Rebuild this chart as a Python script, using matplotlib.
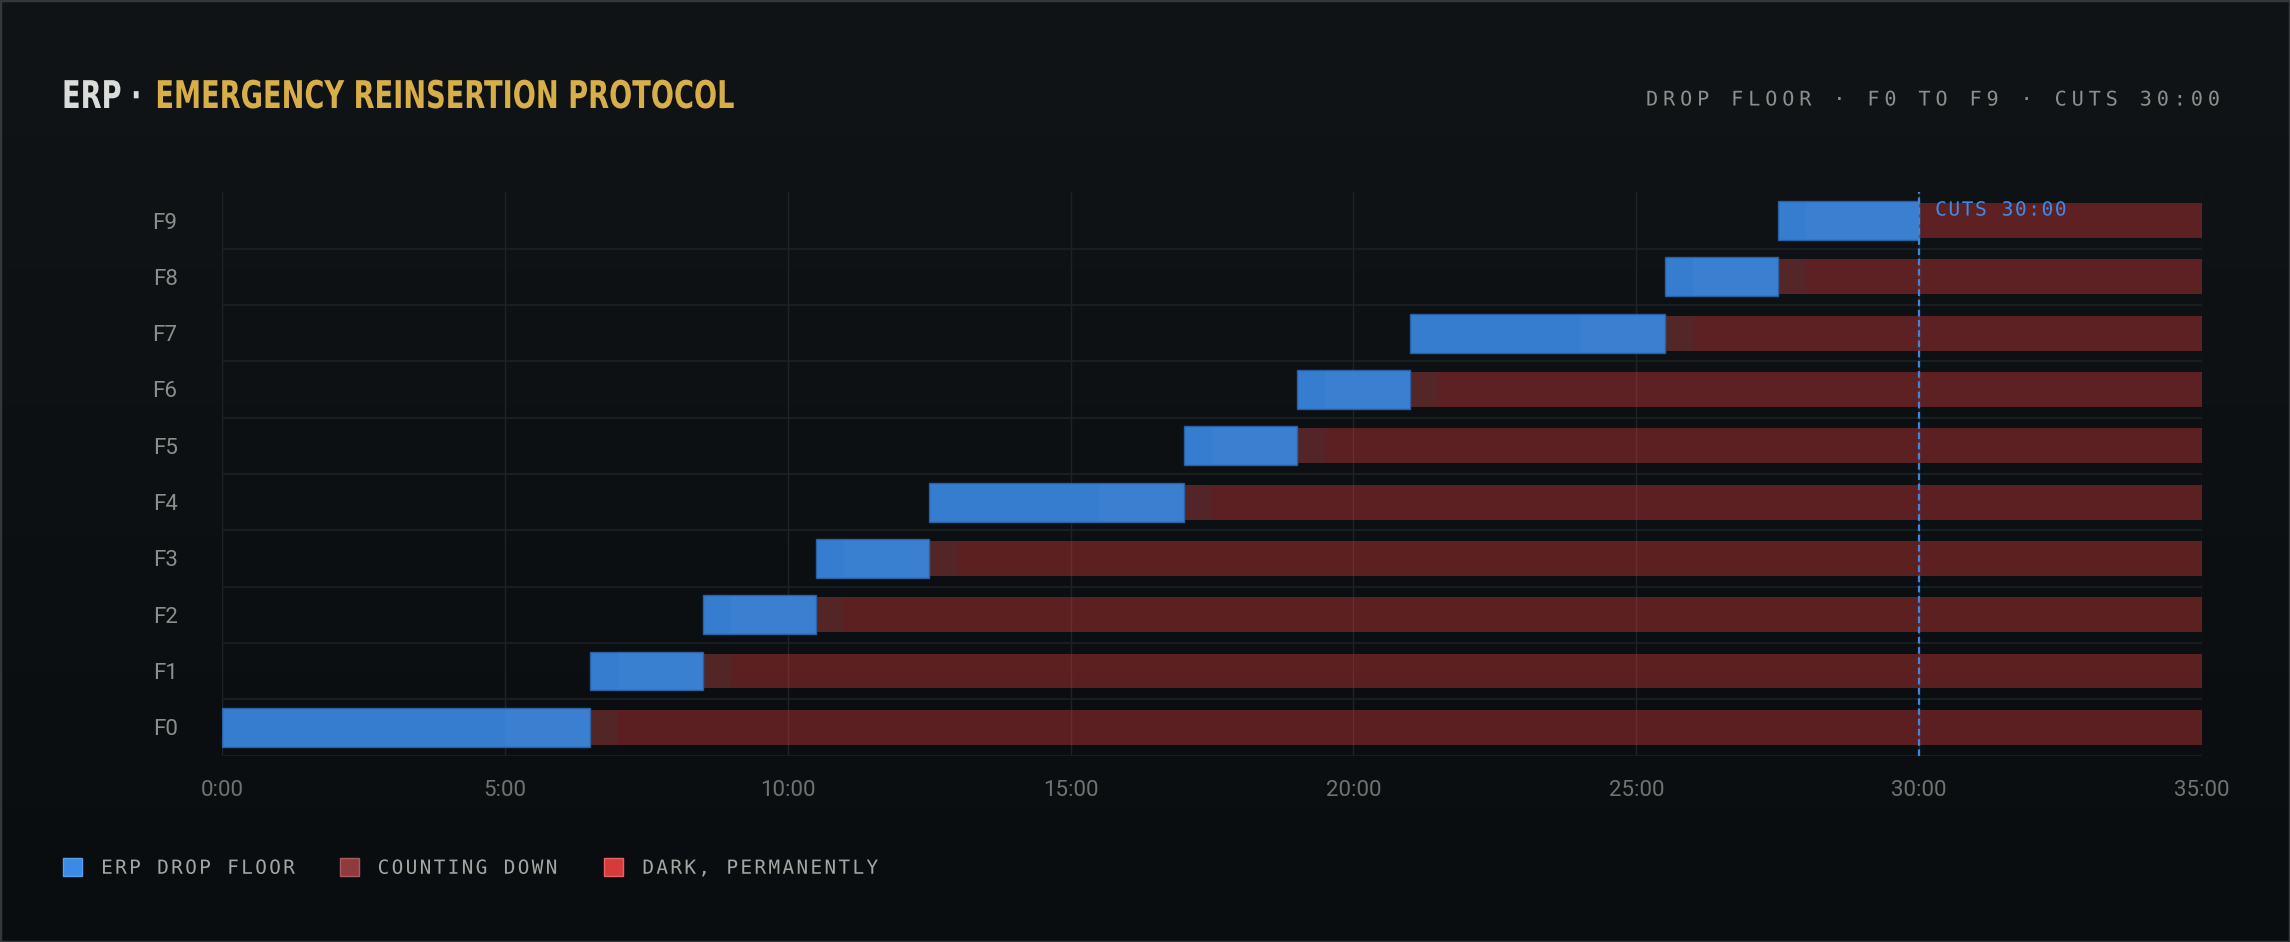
import numpy as np
import matplotlib
matplotlib.use("Agg")
import matplotlib.pyplot as plt
from matplotlib.patches import Patch, Rectangle
from matplotlib.colors import LinearSegmentedColormap
from matplotlib.patheffects import AbstractPathEffect
from matplotlib.path import Path
from matplotlib.transforms import Affine2D

# ---------------- data ----------------
floors = ["F0", "F1", "F2", "F3", "F4", "F5", "F6", "F7", "F8", "F9"]
drop_start = [0.0, 6.5, 8.5, 10.5, 12.5, 17.0, 19.0, 21.0, 25.5, 27.5]
drop_end = [6.5, 8.5, 10.5, 12.5, 17.0, 19.0, 21.0, 25.5, 27.5, 30.0]
countdown_end = [7.0, 9.0, 11.0, 13.0, 17.5, 19.5, 21.5, 26.0, 28.0, 30.0]
shade_start = [5.0, 7.0, 9.0, 11.0, 15.5, 17.5, 19.5, 24.0, 26.0, 28.0]
dark_end = [35.0] * 10
cut_time = 30.0
x_ticks = [0, 5, 10, 15, 20, 25, 30, 35]
x_tick_labels = ["0:00", "5:00", "10:00", "15:00", "20:00", "25:00", "30:00", "35:00"]
legend_labels = ["ERP DROP FLOOR", "COUNTING DOWN", "DARK, PERMANENTLY"]


# ---------------- text effects ----------------
class Tracking(AbstractPathEffect):
    """Letter spacing for a monospace text (DejaVu Sans Mono)."""
    def __init__(self, extra_px, n_chars, align=0.0, adv_units=1233 / 2048 * 100):
        super().__init__()
        self.extra = extra_px
        self.n = n_chars
        self.align = align
        self.adv = adv_units

    def draw_path(self, renderer, gc, tpath, affine, rgbFace=None):
        codes = tpath.codes
        if codes is None:
            renderer.draw_path(gc, tpath, affine, rgbFace)
            return
        src = tpath.vertices
        out = affine.transform(src).copy()
        starts = np.where(codes == Path.MOVETO)[0]
        ends = list(starts[1:]) + [len(codes)]
        shift0 = -self.align * (self.n - 1) * self.extra
        for s, e in zip(starts, ends):
            cx = 0.5 * (src[s:e, 0].min() + src[s:e, 0].max())
            idx = int(cx // self.adv)
            out[s:e, 0] += idx * self.extra + shift0
        renderer.draw_path(gc, Path(out, codes), Affine2D(), rgbFace)


class Stretch(AbstractPathEffect):
    """Scale glyphs about the text's baseline origin (condensed look)."""
    def __init__(self, sx=1.0, sy=1.0):
        super().__init__()
        self.sx = sx
        self.sy = sy

    def draw_path(self, renderer, gc, tpath, affine, rgbFace=None):
        ox, oy = affine.transform((0, 0))
        a = affine + Affine2D().translate(-ox, -oy).scale(self.sx, self.sy).translate(ox, oy)
        renderer.draw_path(gc, tpath, a, rgbFace)


# ---------------- figure ----------------
W, H = 2290, 942
plt.rcParams["font.family"] = ["Roboto", "DejaVu Sans"]
fig = plt.figure(figsize=(W / 100, H / 100), dpi=100)
fig.patch.set_facecolor("#0d1114")

bg = fig.add_axes([0, 0, 1, 1], zorder=-10)
grad = np.linspace(0, 1, 256).reshape(-1, 1)
cmap = LinearSegmentedColormap.from_list("bg", ["#101417", "#0a0d10"])
bg.imshow(grad, aspect="auto", cmap=cmap, extent=[0, 1, 0, 1], origin="upper")
bg.set_axis_off()

ax = fig.add_axes([222 / W, 1 - 755.5 / H, (2202 - 222) / W, (755.5 - 192.4) / H])
ax.set_facecolor("none")

y = np.arange(len(floors))
ds = np.array(drop_start)
de = np.array(drop_end)
ce = np.array(countdown_end)
ss = np.array(shade_start)
dk = np.array(dark_end)

ax.barh(y, dk - ce, left=ce, height=0.62, color="#d63a3a", alpha=0.4, lw=0, zorder=2)
ax.barh(y, ce - de, left=de, height=0.62, color="#8e383a", alpha=0.55, lw=0, zorder=2)
ax.barh(y, de - ds, left=ds, height=0.69, color="#3a86e0", alpha=0.92,
        edgecolor="#2b63a8", lw=1.0, zorder=3)
ax.barh(y, de - ss, left=ss, height=0.66, color="white", alpha=0.025, lw=0, zorder=4)

ax.axvline(cut_time, color="#3a86e0", lw=1.6, ls=(0, (3, 1.6)), zorder=5)
cut_lbl = ax.annotate("CUTS 30:00", xy=(cut_time, 9.5), xytext=(11.5, -12.7),
                      textcoords="offset points", va="center", ha="left",
                      color="#3f8ce8", fontsize=14, family="DejaVu Sans Mono", zorder=6)
cut_lbl.set_path_effects([Tracking(1.6, 10)])

ax.set_xlim(0, 35)
ax.set_ylim(-0.5, 9.5)
ax.set_xticks(x_ticks)
ax.set_xticklabels(x_tick_labels)
ax.set_yticks(y)
ax.set_yticklabels(floors)
ax.set_yticks(np.arange(-0.5, 9.0, 1.0), minor=True)
ax.set_axisbelow(True)
ax.grid(which="major", axis="x", color="#1e2327", lw=1.0)
ax.grid(which="minor", axis="y", color="#1c2125", lw=1.2)
ax.grid(which="major", axis="y", visible=False)
ax.tick_params(which="both", length=0)
ax.tick_params(axis="y", pad=32, labelsize=16, labelcolor="#8a8f8b")
ax.tick_params(axis="x", pad=17.5, labelsize=16, labelcolor="#6f7471")
for s in ax.spines.values():
    s.set_visible(False)

# ---------------- title ----------------
SX = 0.713
TITLE_PT = 27.5 * SX          # layout size (true width), glyphs stretched vertically
title_font = ["DejaVu Sans"]
t1 = fig.text(62 / W, 1 - 108 / H, "ERP ·", color="#d9dcd8", fontsize=TITLE_PT,
              fontweight="bold", family=title_font, va="baseline", ha="left")
t1.set_path_effects([Stretch(1.0, 1.0 / SX)])
fig.canvas.draw()
bb = t1.get_window_extent()
t2 = fig.text((bb.x1 + 14) / W, 1 - 108 / H, "EMERGENCY REINSERTION PROTOCOL",
              color="#d8ae48", fontsize=TITLE_PT, fontweight="bold", family=title_font,
              va="baseline", ha="left")
t2.set_path_effects([Stretch(1.0, 1.0 / SX)])

sub = "DROP FLOOR · F0 TO F9 · CUTS 30:00"
st = fig.text(2220 / W, 1 - 100 / H, sub, ha="right", va="center",
              family="DejaVu Sans Mono", fontsize=14.5, color="#8b908c")
st.set_path_effects([Tracking(4.9, len(sub), align=1.0)])

# ---------------- legend ----------------
handles = [
    Patch(facecolor="#3a8ae6", edgecolor="#5a9ded", lw=1),
    Patch(facecolor="#8e3a3e", edgecolor="#a85a5d", lw=1),
    Patch(facecolor="#d63a3a", edgecolor="#e46464", lw=1),
]
leg = fig.legend(handles, legend_labels, loc="center left",
                 bbox_to_anchor=(63 / W, 1 - 868 / H), ncol=3, frameon=False,
                 borderpad=0, borderaxespad=0, handlelength=0.98, handleheight=1.03,
                 handletextpad=0.98, columnspacing=3.8,
                 prop={"family": "DejaVu Sans Mono", "size": 14}, labelcolor="#a3a7a2")
for txt in leg.get_texts():
    txt.set_path_effects([Tracking(2.3, len(txt.get_text()))])

fig.add_artist(Rectangle((0, 0), 1, 1, transform=fig.transFigure, fill=False,
                         edgecolor="#34383b", lw=2.5, zorder=100))

fig.savefig("out.png", dpi=100, facecolor=fig.get_facecolor())
